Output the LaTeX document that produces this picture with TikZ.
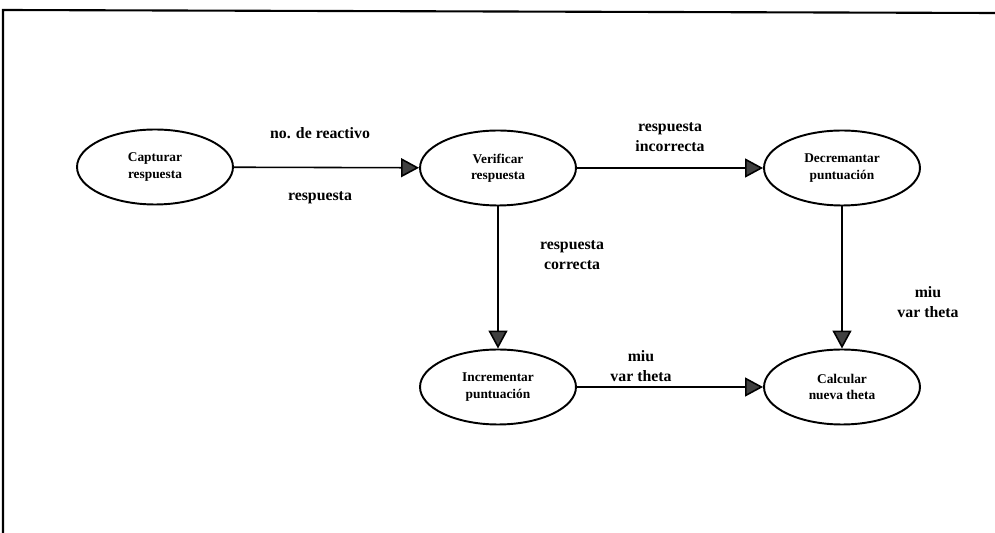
\documentclass[tikz,border=0pt]{standalone}
\usepackage{fontspec}
\setmainfont{Liberation Serif}
\usetikzlibrary{shapes.geometric,arrows.meta}
\begin{document}
\begin{tikzpicture}[x=0.02cm,y=-0.02cm,
        proc/.style = {ellipse,
            draw,
            line width=1.1pt,
            minimum width = 3.12cm,
            minimum height = 1.5cm,
            inner sep=0pt,
            align=center,
            font=\fontsize{7.6}{9.2}\selectfont\bfseries
            },
        flow/.style = {line width=0.9pt,
            -{Triangle[length=0.36cm,width=0.38cm,fill=black!75]}
            },
        lbl/.style = {align=center,
            font=\bfseries\small,
            inner sep=0pt
            }]
    
    \useasboundingbox (0,0) rectangle (995,533);
    
    % Frame
    \coordinate (TL) at (3,10);
    \coordinate (TR) at (995,13);
    \coordinate (BL) at (3,533);
    \draw[line width=1.2pt] (BL) -- (TL) -- (TR);
    
    % Processes
    \node[proc] (cap) at (155,167) {Capturar\\respuesta};
    \node[proc] (ver) at (498,168) {Verificar\\respuesta};
    \node[proc] (dec) at (842,168) {Decremantar\\puntuación};
    \node[proc] (inc) at (498,387) {Incrementar\\puntuación};
    \node[proc] (cal) at (842,387) {Calcular\\nueva theta};
    
    % Flows
    \draw[flow] (cap) -- (ver);
    \draw[flow] (ver) -- (dec);
    \draw[flow] (ver) -- (inc);
    \draw[flow] (dec) -- (cal);
    \draw[flow] (inc) -- (cal);
    
    % Data labels
    \node[lbl] (l1) at (320,133) {no. de reactivo};
    \node[lbl] (l2) at (320,198) {respuesta};
    \node[lbl] (l3) at (670,137) {respuesta\\incorrecta};
    \node[lbl] (l4) at (572,255) {respuesta\\correcta};
    \node[lbl] (l5) at (641,366) {miu\\var theta};
    \node[lbl] (l6) at (928,302) {miu\\var theta};
    
\end{tikzpicture}
\end{document}
